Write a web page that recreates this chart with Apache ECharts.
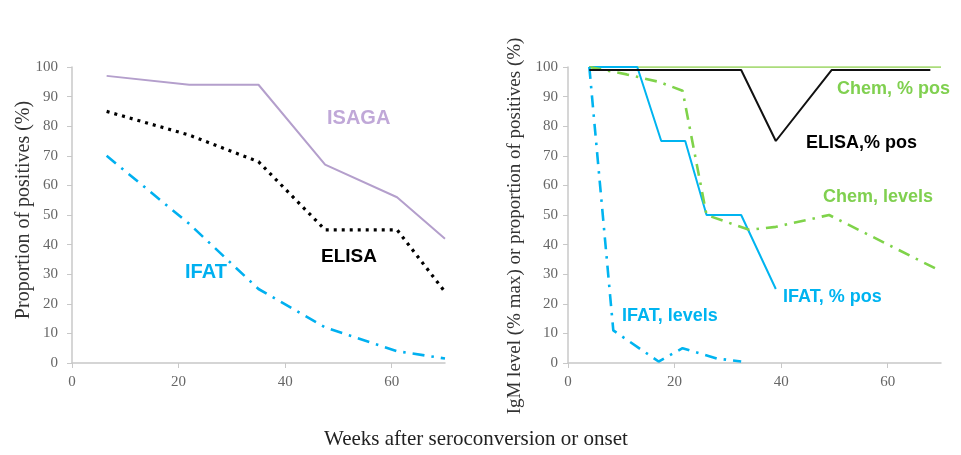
<!DOCTYPE html>
<html>
<head>
<meta charset="utf-8">
<script src="https://cdn.jsdelivr.net/npm/echarts@6/dist/echarts.min.js"></script>
<style>
html,body{margin:0;padding:0;background:#fff;}
#c{width:961px;height:455px;}
</style>
</head>
<body>
<div id="c"></div>
<script>
// ---- Left panel data ----
const leftWeeks = [6.5, 22, 35, 47.5, 61, 70];
const isagaPos  = [97, 94, 94, 67, 56, 42];
const elisaPos  = [85, 77, 68, 45, 45, 24];
const ifatPos   = [70, 47, 25, 12, 4, 1.5];

// ---- Right panel data ----
const chemPosWeeks   = [4, 70];
const chemPos        = [100, 100];
const elisaRWeeks    = [4, 32.5, 39, 49.5, 68];
const elisaRPos      = [99, 99, 75, 99, 99];
const ifatRWeeks     = [4, 13, 17.5, 22, 26, 32.5, 39];
const ifatRPos       = [100, 100, 75, 75, 50, 50, 25];
const chemLevWeeks   = [4, 11, 17, 21.5, 26, 34, 39, 49, 70];
const chemLevels     = [100, 97.5, 95, 92, 50, 45, 46, 50, 31];
const ifatLevWeeks   = [4, 8.5, 17, 21.5, 28, 32.5];
const ifatLevels     = [100, 11, 0.5, 5, 1.5, 0.5];

const xTicks = [0, 20, 40, 60];
const yTicks = [0, 10, 20, 30, 40, 50, 60, 70, 80, 90, 100];

const pair = (xs, ys) => xs.map((x, i) => [x, ys[i]]);

const serif = 'Liberation Serif';
const sans = 'Liberation Sans';
const tickColor = '#666666';
const axisColor = '#c8c8c8';

function xAxis(gi) {
  return {
    type: 'value', gridIndex: gi, min: 0, max: 70, interval: 20,
    axisLine: {show: true, lineStyle: {color: axisColor, width: 1.5}},
    axisTick: {show: true, length: 5, lineStyle: {color: axisColor}},
    splitLine: {show: false},
    axisLabel: {showMaxLabel: false, margin: 12, color: tickColor, fontFamily: serif, fontSize: 15,
      formatter: v => xTicks.includes(v) ? String(v) : ''}
  };
}
function yAxis(gi, margin) {
  return {
    type: 'value', gridIndex: gi, min: 0, max: 100, interval: 10,
    axisLine: {show: true, lineStyle: {color: axisColor, width: 1.5}},
    axisTick: {show: true, length: 5, lineStyle: {color: axisColor}},
    splitLine: {show: false},
    axisLabel: {margin: margin, color: tickColor, fontFamily: serif, fontSize: 15,
      formatter: v => yTicks.includes(v) ? String(v) : ''}
  };
}
function line(xi, data, color, width, type, z) {
  return {
    type: 'line', xAxisIndex: xi, yAxisIndex: xi, data: data,
    showSymbol: false, symbol: 'none', animation: false, z: z || 2,
    lineStyle: {color: color, width: width, type: type || 'solid'}
  };
}
function lbl(x, y, text, color, size) {
  return {type: 'text', left: x, top: y,
    style: {text: text, fill: color, font: 'bold ' + size + 'px "' + sans + '"'}};
}
function vname(x, y, text, size) {
  return {type: 'text', x: x, y: y, rotation: Math.PI / 2,
    style: {text: text, fill: '#333333', font: size + 'px "' + serif + '"', align: 'center', verticalAlign: 'middle'}};
}

const chart = echarts.init(document.getElementById('c'));
chart.setOption({
  animation: false,
  grid: [
    {left: 72, top: 67, width: 373, height: 296},
    {left: 568, top: 67, width: 373, height: 296}
  ],
  xAxis: [xAxis(0), xAxis(1)],
  yAxis: [yAxis(0, 14), yAxis(1, 10)],
  series: [
    line(0, pair(leftWeeks, isagaPos), '#b49fcc', 2),
    line(0, pair(leftWeeks, elisaPos), '#000000', 3.2, [3, 5]),
    line(0, pair(leftWeeks, ifatPos), '#00b0f0', 2.6, [12, 7, 2.5, 7]),
    line(1, pair(chemPosWeeks, chemPos), '#8fd14f', 1.5),
    line(1, pair(ifatRWeeks, ifatRPos), '#00b4f0', 2),
    line(1, pair(elisaRWeeks, elisaRPos), '#111111', 2, 'solid', 3),
    line(1, pair(chemLevWeeks, chemLevels), '#7fd34a', 2.6, [12, 7, 2.5, 7]),
    line(1, pair(ifatLevWeeks, ifatLevels), '#00b4f0', 2.6, [12, 7, 2.5, 7])
  ],
  graphic: [
    vname(24, 210, 'Proportion of positives (%)', 20),
    vname(515, 226, 'IgM level (% max) or proportion of positives (%)', 19),
    lbl(327, 108, 'ISAGA', '#c0a8d8', 20),
    lbl(321, 247, 'ELISA', '#000000', 19),
    lbl(185, 262, 'IFAT', '#00b0f0', 20),
    lbl(837, 80, 'Chem, % pos', '#80d050', 18),
    lbl(806, 134, 'ELISA,% pos', '#000000', 18),
    lbl(823, 188, 'Chem, levels', '#80d050', 18),
    lbl(783, 288, 'IFAT, % pos', '#00b4f0', 18),
    lbl(622, 307, 'IFAT, levels', '#00b4f0', 18),
    {type: 'text', x: 476, y: 439,
      style: {text: 'Weeks after seroconversion or onset', fill: '#222222', font: '21px "' + serif + '"', align: 'center', verticalAlign: 'middle'}}
  ]
});
</script>
</body>
</html>
